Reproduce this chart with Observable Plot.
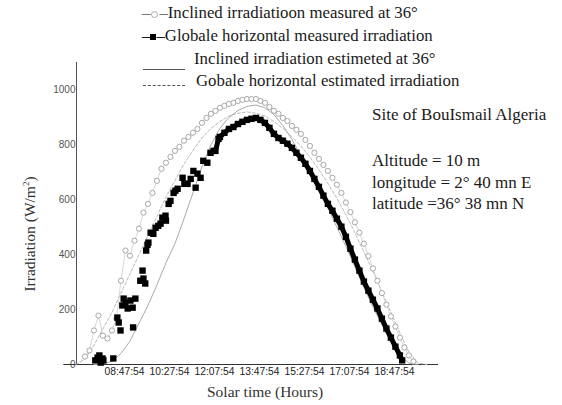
<!DOCTYPE html>
<html><head><meta charset="utf-8">
<script src="https://cdn.jsdelivr.net/npm/d3@7"></script>
<script src="https://cdn.jsdelivr.net/npm/@observablehq/plot@0.6"></script>
<style>
body{margin:0;background:#fff;}
#wrap{position:relative;width:562px;height:405px;overflow:hidden;}
.t{position:absolute;font-family:"Liberation Serif","Times New Roman",serif;color:#1a1a1a;white-space:nowrap;line-height:1;}
.leg{font-size:16.8px;}
.ann{font-size:17px;}
</style></head>
<body><div id="wrap"></div>
<script>
// ---- data ----
const xTickLabels = ["08:47:54","10:27:54","12:07:54","13:47:54","15:27:54","17:07:54","18:47:54"];
const yTicks = [0,200,400,600,800,1000];

const inclinedMeasTimes = "07:20 07:30 07:40 07:50 08:00 08:10 08:20 08:30 08:40 08:50 09:00 09:10 09:20 09:30 09:40 09:50 10:00 10:10 10:20 10:30 10:40 10:50 11:00 11:10 11:20 11:30 11:40 11:50 12:00 12:10 12:20 12:30 12:40 12:50 13:00 13:10 13:20 13:30 13:40 13:50 14:00 14:10 14:20 14:30 14:40 14:50 15:00 15:10 15:20 15:30 15:40 15:50 16:00 16:10 16:20 16:30 16:40 16:50 17:00 17:10 17:20 17:30 17:40 17:50 18:00 18:10 18:20 18:30 18:40 18:50 19:00 19:10 19:20 19:30".split(" ");
const inclinedMeasValues = [29,51,124,178,105,95,124,167,305,415,396,451,495,553,585,625,669,713,735,756,778,793,815,829,844,858,880,898,913,924,935,942,949,953,960,964,967,967,967,960,953,938,924,913,898,887,869,855,840,818,796,771,749,727,705,680,655,625,590,555,518,480,440,395,350,305,260,218,175,138,98,62,33,11];

const globalMeasTimes = "07:43 07:48 07:52 07:55 07:59 08:01 08:23 08:32 08:35 08:39 08:43 08:46 08:50 08:55 09:01 09:06 09:07 09:12 09:23 09:28 09:30 09:34 09:36 09:39 09:41 09:46 09:52 09:57 10:03 10:08 10:12 10:19 10:20 10:26 10:30 10:37 10:41 10:46 10:57 11:01 11:08 11:15 11:21 11:26 11:30 11:37 11:43 11:52 11:59 12:06 12:10 12:17 12:20 12:30 12:40 12:50 13:00 13:10 13:20 13:30 13:40 13:50 14:00 14:10 14:20 14:30 14:40 14:50 15:00 15:10 15:20 15:30 15:40 15:50 16:00 16:10 16:20 16:30 16:40 16:50 17:00 17:10 17:20 17:30 17:40 17:50 18:00 18:10 18:20 18:30 18:40 18:50 19:00 19:05".split(" ");
const globalMeasValues = [15,25,33,7,22,15,22,171,153,124,215,240,225,204,233,207,135,240,305,342,313,295,415,436,444,480,476,498,505,513,535,542,524,585,596,625,633,640,680,658,658,676,705,644,695,680,742,735,771,778,778,822,829,844,858,865,876,884,891,895,898,891,880,862,840,825,815,804,789,771,753,731,705,676,647,615,585,560,531,502,465,422,382,342,302,269,236,204,167,131,98,65,33,15];

const inclinedEstTimes = "07:40 08:00 08:20 08:40 09:00 09:20 09:40 10:00 10:20 10:40 11:00 11:20 11:40 12:00 12:20 12:40 13:00 13:20 13:40 14:00 14:20 14:40 15:00 15:20 15:40 16:00 16:20 16:40 17:00 17:20 17:40 18:00 18:20 18:40 19:00 19:20 19:40".split(" ");
const inclinedEstValues = [0,2,12,40,85,150,215,290,370,440,530,625,720,800,860,900,925,940,945,935,910,870,820,760,700,640,570,500,430,355,280,210,145,85,35,5,0];

const globalEstTimes = "07:00 07:20 07:40 08:00 08:20 08:40 09:00 09:20 09:40 10:00 10:20 10:40 11:00 11:20 11:40 12:00 12:20 12:40 13:00 13:20 13:40 14:00 14:20 14:40 15:00 15:20 15:40 16:00 16:20 16:40 17:00 17:20 17:40 18:00 18:20 18:40 19:00 19:20 19:40 20:00".split(" ");
const globalEstValues = [0,20,70,130,190,260,330,400,470,540,610,670,730,780,825,860,885,905,915,920,915,905,885,860,830,795,755,710,660,605,545,480,410,340,265,190,115,45,5,0];

// ---- helpers ----
const toH = s => { const p = s.split(":").map(Number); return p[0] + p[1]/60 + (p[2]||0)/3600; };
const rows = (ts, vs) => ts.map((t,i) => ({h: toH(t), v: vs[i]}));
const incMeas = rows(inclinedMeasTimes, inclinedMeasValues);
const globMeas = rows(globalMeasTimes, globalMeasValues);
const incEst = rows(inclinedEstTimes, inclinedEstValues);
const globEst = rows(globalEstTimes, globalEstValues);
const xTicks = xTickLabels.map(toH);
const labelOf = new Map(xTicks.map((h,i)=>[h, xTickLabels[i]]));
const xDom = [7.02, 20.43];

const chart = Plot.plot({
  width: 562, height: 405,
  marginLeft: 76, marginRight: 124, marginTop: 62, marginBottom: 41,
  x: {domain: xDom}, y: {domain: [0, 1100]},
  style: {fontFamily: "Liberation Sans, Arial, sans-serif", fontSize: "10px", color: "#333", background: "white"},
  marks: [
    Plot.axisX({ticks: xTicks, tickFormat: d => labelOf.get(d), tickSize: 0, tickPadding: 3, label: null, fontSize: 10.3, fill: "#222"}),
    Plot.axisY({ticks: yTicks, tickFormat: d3.format("d"), tickSize: 0, tickPadding: 1, label: null, fontSize: 10, fill: "#555"}),
    Plot.ruleX([xDom[0]], {y1: 0, y2: 1100, stroke: "#555"}),
    Plot.ruleY([0], {x1: 6.55, x2: xDom[1], stroke: "#333"}),
    Plot.line(globEst, {x: "h", y: "v", stroke: "#bbb", strokeWidth: 1, strokeDasharray: "3,2"}),
    Plot.line(incEst, {x: "h", y: "v", stroke: "#aaa", strokeWidth: 1}),
    Plot.line(incMeas, {x: "h", y: "v", stroke: "#cccccc", strokeWidth: 0.8}),
    Plot.dot(incMeas, {x: "h", y: "v", symbol: "circle", r: 2.6, stroke: "#a8a8a8", fill: "white", strokeWidth: 1}),
    Plot.line(globMeas.filter(d => d.h >= 12.15), {x: "h", y: "v", stroke: "black", strokeWidth: 5}),
    Plot.dot(globMeas, {x: "h", y: "v", symbol: "square", r: 3.6, fill: "black"})
  ]
});
const wrap = document.getElementById("wrap");
chart.style.position = "absolute"; chart.style.left = "0"; chart.style.top = "0";
wrap.appendChild(chart);

// ---- legend & annotations (HTML overlay) ----
function txt(html, x, y, cls, extra) {
  const d = document.createElement("div");
  d.className = "t " + cls; d.innerHTML = html;
  d.style.left = x + "px"; d.style.top = y + "px";
  if (extra) Object.assign(d.style, extra);
  wrap.appendChild(d); return d;
}
const legendItems = [
  {sym: '<span style="color:#777">–</span><span style="display:inline-block;width:5px;height:5px;border:1px solid #aaa;border-radius:50%;vertical-align:middle;margin:0 1px"></span><span style="color:#777">–</span>', text: "Inclined irradiatioon measured at 36°", x: 142, y: 5},
  {sym: '–<span style="display:inline-block;width:6px;height:6px;background:#000;vertical-align:middle"></span>–', text: "Globale horizontal measured irradiation", x: 142, y: 28}
];
legendItems.forEach(it => txt(it.sym + it.text, it.x, it.y, "leg"));
txt("Inclined irradiation estimeted at 36°", 194, 51, "leg");
txt("Gobale horizontal estimated irradiation", 196, 73, "leg");
const l3 = document.createElement("div");
Object.assign(l3.style, {position:"absolute", left:"143px", top:"69px", width:"42px", borderTop:"1.5px solid #555"});
wrap.appendChild(l3);
const l4 = document.createElement("div");
Object.assign(l4.style, {position:"absolute", left:"143px", top:"85px", width:"42px", borderTop:"1.5px dashed #555"});
wrap.appendChild(l4);

txt("Site of BouIsmail Algeria", 372, 106, "ann");
txt("Altitude = 10 m", 372, 152, "ann");
txt("longitude = 2° 40 mn E", 372, 174, "ann");
txt("latitude =36° 38 mn N", 372, 195, "ann");

txt("Solar time (Hours)", 207, 384, "ann", {fontSize: "15.5px", color: "#333"});
txt("Irradiation (W/m<sup style=\"font-size:9px\">2</sup>)", 30, 234, "ann", {fontSize: "15.5px", color: "#333", transform: "translate(-50%,-50%) rotate(-90deg)"});
</script>
</body></html>
